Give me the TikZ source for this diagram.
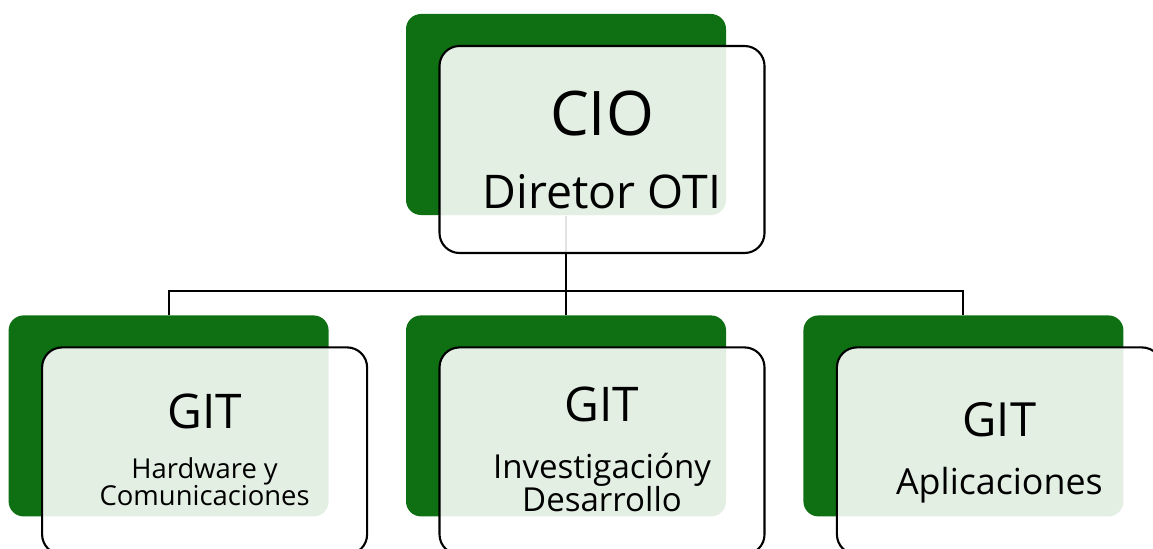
\documentclass[tikz,border=0pt]{standalone}
\usepackage{fontspec}
\setmainfont{Open Sans}
\usepackage{tikz}
\usetikzlibrary{positioning}
\definecolor{oticgreen}{RGB}{14,112,18}

\begin{document}
\begin{tikzpicture}[
    back/.style={rectangle, rounded corners=1.5mm, fill=oticgreen, inner sep=0pt, minimum width=3.2cm, minimum height=2.01cm},
    front/.style={rectangle, rounded corners=2mm, draw=black, line width=0.6pt, fill=white, fill opacity=0.89, inner sep=0pt, minimum width=3.25cm, minimum height=2.07cm, xshift=3.6mm, yshift=-3.5mm},
    txt/.style={anchor=base, align=center, inner sep=0pt, text=black},
    link/.style={draw=black, line width=0.6pt}
]
\useasboundingbox (0,0) rectangle (11.53,5.48);
% green back boxes
\node[back] (g0) at (5.66,4.335) {};
\node[back, below=0.99cm of g0] (g2) {};
\node[back, left=0.76cm of g2] (g1) {};
\node[back, right=0.76cm of g2] (g3) {};
% connectors
\coordinate (j) at ([yshift=-7.5mm]g0.south);
\draw[link] (g0.south) -- (j) -| (g1.north);
\draw[link] (j) -- (g2.north);
\draw[link] (j) -| (g3.north);
% outlined front boxes
\node[front] (f0) at (g0) {};
\node[front] (f1) at (g1) {};
\node[front] (f2) at (g2) {};
\node[front] (f3) at (g3) {};
% texts
\node[txt, font=\fontsize{17.5}{20}\selectfont] (t0) at ([yshift=1.4mm]f0.center) {CIO};
\node[txt, font=\fontsize{13.2}{15}\selectfont] (s0) at ([yshift=-5.9mm]f0.center) {Diretor OTI};
\node[txt, font=\fontsize{13.6}{16}\selectfont] (t1) at ([yshift=2.25mm]f1.center) {GIT};
\node[txt, font=\fontsize{7.8}{7.7}\selectfont] (s1) at ([yshift=-5.45mm]f1.center) {Hardware y\\Comunicaciones};
\node[txt, font=\fontsize{13.6}{16}\selectfont] (t2) at ([yshift=2.95mm]f2.center) {GIT};
\node[txt, font=\fontsize{9.4}{9.4}\selectfont] (s2) at ([yshift=-6.05mm]f2.center) {Investigacióny\\Desarrollo};
\node[txt, font=\fontsize{13.4}{16}\selectfont] (t3) at ([yshift=1.45mm]f3.center) {GIT};
\node[txt, font=\fontsize{10.2}{12}\selectfont] (s3) at ([yshift=-4.35mm]f3.center) {Aplicaciones};
\end{tikzpicture}
\end{document}
